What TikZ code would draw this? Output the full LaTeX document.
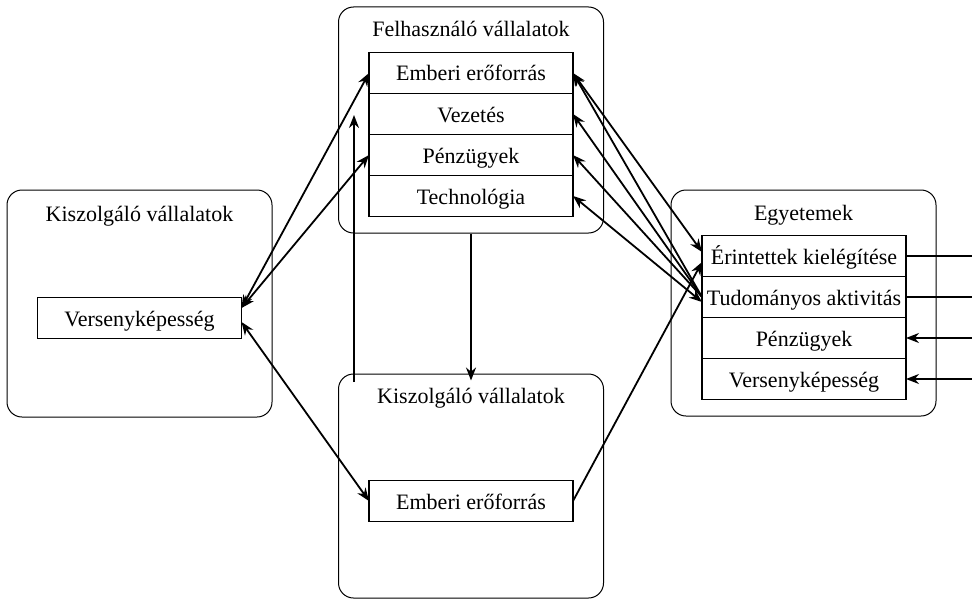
\documentclass[tikz,border=0pt]{standalone}
\usepackage{fontspec}
\setmainfont{Liberation Serif}
\usetikzlibrary{arrows.meta,positioning}

\begin{document}
\begin{tikzpicture}[x=0.5pt, y=-0.5pt,
    group/.style={rectangle, draw, rounded corners=7.5pt, line width=0.5pt, minimum width=132.5pt},
    title/.style={anchor=base, font=\fontsize{11}{13}\selectfont},
    cell/.style={rectangle, draw, line width=0.6pt, minimum width=102pt, minimum height=20.5pt, inner sep=0pt, outer sep=0pt, text height=8pt, text depth=0pt, font=\fontsize{11}{13}\selectfont},
    link/.style={line width=0.9pt, >={Stealth[length=6.5pt, width=5pt]}}]
    \useasboundingbox (0,0) rectangle (972,599);

    % Outer boxes
    \node[group, minimum height=113.5pt] (kisz1) at (139.5,303.5) {};
    \node[group, minimum height=113pt] (felh) at (471,120) {};
    \node[group, minimum height=112pt] (kisz2) at (471,486) {};
    \node[group, minimum height=113pt] (egy) at (803.5,303) {};

    % Titles
    \node[title] (kisz1title) at (139.5,221) {Kiszolgáló vállalatok};
    \node[title] (felhtitle) at (471,37) {Felhasználó vállalatok};
    \node[title] (kisz2title) at (471,403) {Kiszolgáló vállalatok};
    \node[title] (egytitle) at (803.5,220) {Egyetemek};

    % Cells
    \node[cell] (verseny) at (139.5,318) {Versenyképesség};
    \node[cell] (fe1) at (471,73) {Emberi erőforrás};
    \node[cell, below=0pt of fe1] (fe2) {Vezetés};
    \node[cell, below=0pt of fe2] (fe3) {Pénzügyek};
    \node[cell, below=0pt of fe3] (fe4) {Technológia};
    \node[cell] (ke) at (471,501) {Emberi erőforrás};
    \node[cell] (eg1) at (804,256) {Érintettek kielégítése};
    \node[cell, below=0pt of eg1] (eg2) {Tudományos aktivitás};
    \node[cell, below=0pt of eg2] (eg3) {Pénzügyek};
    \node[cell, below=0pt of eg3] (eg4) {Versenyképesség};

    % Free ends
    \coordinate (up0) at (354,382);
    \coordinate (up1) at (354,115);
    \coordinate (edge) at (972,0);

    % Left side
    \draw[link, <->] ([yshift=5pt]verseny.east) -- (fe1.west);
    \draw[link, <->] ([yshift=5pt]verseny.east) -- (fe3.west);
    \draw[link, <->] ([yshift=-2pt]verseny.east) -- (ke.west);

    % Vertical links
    \draw[link, ->] (up0) -- (up1);
    \draw[link, ->] (felh.south) -- ([yshift=-3.5pt]kisz2.north);

    % Right side
    \draw[link, <->] (fe1.east) -- ([yshift=2pt]eg1.west);
    \draw[link, ->] (eg2.west) -- (fe1.east);
    \draw[link, ->] (eg2.west) -- (fe2.east);
    \draw[link, ->] (eg2.west) -- (fe3.east);
    \draw[link, <->] (fe4.east) -- ([yshift=-2.5pt]eg2.west);
    \draw[link, ->] (ke.east) -- ([yshift=-3pt]eg1.west);

    % Outgoing and incoming lines
    \draw[link] (eg1.east) -- (eg1.east -| edge);
    \draw[link] (eg2.east) -- (eg2.east -| edge);
    \draw[link, <-] (eg3.east) -- (eg3.east -| edge);
    \draw[link, <-] (eg4.east) -- (eg4.east -| edge);
\end{tikzpicture}
\end{document}
